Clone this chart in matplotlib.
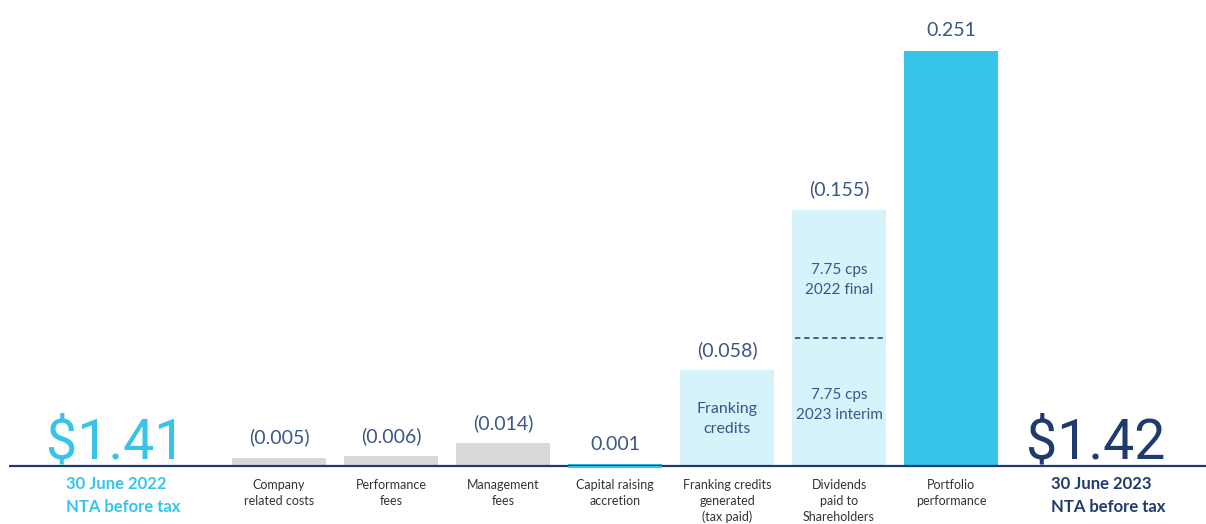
import matplotlib
matplotlib.use("Agg")
import matplotlib.pyplot as plt

plt.rcParams['font.family'] = ['Lato', 'DejaVu Sans']

# ---- data ----
categories = ["Company\nrelated costs", "Performance\nfees", "Management\nfees",
              "Capital raising\naccretion", "Franking credits\ngenerated\n(tax paid)",
              "Dividends\npaid to\nShareholders", "Portfolio\nperformance"]
values = [-0.005, -0.006, -0.014, 0.001, -0.058, -0.155, 0.251]
bar_kinds = ["cost", "cost", "cost", "gain", "dist", "dist", "gain"]
dividend_parts = [0.0775, 0.0775]           # 2023 interim (bottom), 2022 final (top)
dividend_part_labels = ["7.75 cps\n2023 interim", "7.75 cps\n2022 final"]
franking_label = "Franking\ncredits"
nta_start, nta_end = 1.41, 1.42
nta_start_label = "30 June 2022\nNTA before tax"
nta_end_label = "30 June 2023\nNTA before tax"

colors = {"cost": "#D9D9D9", "gain": "#36C5E9", "dist": "#D6F2FB"}
navy = "#1F3B6E"
label_col = "#3B5688"
cyan = "#36C5E9"

# ---- figure ----
W, H = 1206, 524
fig = plt.figure(figsize=(W / 100, H / 100), dpi=100)
ax = fig.add_axes([0, 0, 1, 1])
scale = 1653.0          # px per unit
base_px = 466.0
x0_px, step = 167.0, 112.0
ax.set_xlim(-x0_px / step, (W - x0_px) / step)
ax.set_ylim(-(H - base_px) / scale, base_px / scale)
ax.axis("off")

xs = list(range(1, len(values) + 1))
heights = [abs(v) for v in values]
bar_w = 94 / step

for x, h, v, k in zip(xs, heights, values, bar_kinds):
    ax.bar(x, h, width=bar_w, color=colors[k], zorder=2, linewidth=0)
    txt = f"({abs(v):.3f})" if v < 0 else f"{v:.3f}"
    ax.annotate(txt, (x, h), xytext=(0, 14.5), textcoords="offset points",
                ha="center", va="center", fontsize=14, color=label_col, zorder=5)

# baseline
ax.plot([9 / step - x0_px / step, (W) / step], [0, 0], color=navy, lw=1.6, zorder=3,
        solid_capstyle="butt")
# capital raising thin bar on top
ax.bar(xs[3], -0.0012, width=bar_w, color=colors["gain"], zorder=4, linewidth=0)

# category labels
for x, c in zip(xs, categories):
    ax.text(x, -13 / scale, c, ha="center", va="top", fontsize=9, color="#333333",
            linespacing=1.38)

# franking credits inner text
fi = 4
ax.text(xs[fi], heights[fi] / 2 - 0.0005, franking_label, ha="center", va="center",
        fontsize=11.5, color=label_col, linespacing=1.6, zorder=5)

# dividends split
di = 5
ax.plot([xs[di] - bar_w / 2 + 0.03, xs[di] + bar_w / 2 - 0.03],
        [dividend_parts[0], dividend_parts[0]], ls=(0, (3.5, 2.5)), color=navy, lw=1.1, zorder=4)
ax.text(xs[di], dividend_parts[0] - 0.0405, dividend_part_labels[0], ha="center", va="center",
        fontsize=11, color=label_col, linespacing=1.6, zorder=5)
ax.text(xs[di], dividend_parts[0] + 0.035, dividend_part_labels[1], ha="center", va="center",
        fontsize=11, color=label_col, linespacing=1.6, zorder=5)

# NTA labels
def px_x(p):
    return (p - x0_px) / step

big = dict(family=["Roboto", "DejaVu Sans"], fontweight="normal", fontsize=40)
ax.text(px_x(116), 8 / scale, f"${nta_start:.2f}", ha="center", va="baseline",
        color=cyan, **big)
ax.text(px_x(66), -10 / scale, nta_start_label, ha="left", va="top", fontsize=12,
        color=cyan, fontweight="bold", linespacing=1.55)
ax.text(px_x(1096), 8 / scale, f"${nta_end:.2f}", ha="center", va="baseline",
        color=navy, **big)
ax.text(px_x(1051), -10 / scale, nta_end_label, ha="left", va="top", fontsize=12,
        color=navy, fontweight="bold", linespacing=1.55)

fig.savefig("out.png", dpi=100, facecolor="white")
